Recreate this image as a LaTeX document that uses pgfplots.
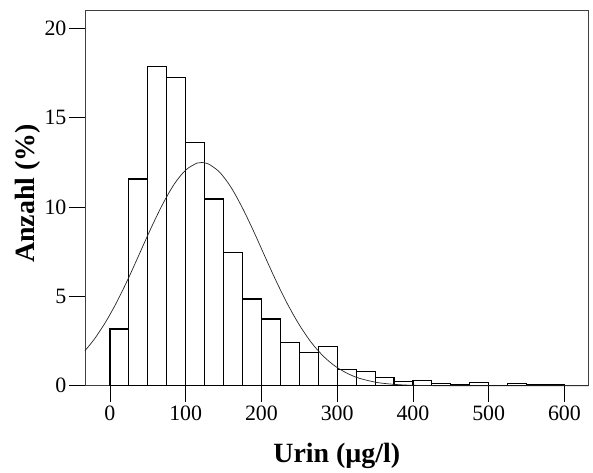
\documentclass[border=0pt]{standalone}
\usepackage{pgfplots}
\pgfplotsset{compat=1.18}
\usepackage{fontspec}
\setmainfont{Liberation Serif}
\begin{document}
\begin{tikzpicture}
\begin{axis}[
  name=ax,
  scale only axis,
  width=504bp, height=375.3bp,
  xmin=-33, xmax=632, ymin=0, ymax=21,
  xtick={0,100,...,600},
  ytick={0,5,10,15,20},
  xtick pos=bottom, ytick pos=left,
  tick align=outside,
  major tick length=16bp,
  tick style={black, line width=0.8pt},
  axis line style={black!75, line width=0.8pt},
  ticklabel style={font=\fontsize{22}{26}\selectfont},
  /pgf/number format/assume math mode=true,
  xticklabel style={yshift=-1bp},
  yticklabel style={xshift=1bp},
  xlabel={Urin (µg/l)},
  ylabel={Anzahl (\%)},
  label style={font=\bfseries\fontsize{28}{32}\selectfont},
  xlabel style={at={(axis description cs:0.5,0)}, anchor=base, yshift=-77bp},
  ylabel style={at={(axis description cs:-0.101,0.513)}, anchor=base},
  clip=false,
]
\addplot[ybar interval, fill=white, draw=black, line width=1.1pt] coordinates {
(0,3.18) (25,11.58) (50,17.89) (75,17.25) (100,13.6) (125,10.46)
(150,7.47) (175,4.86) (200,3.74) (225,2.43) (250,1.87) (275,2.20)
(300,0.90) (325,0.78) (350,0.49) (375,0.22) (400,0.28) (425,0.15)
(450,0.07) (475,0.21) (500,0) (525,0.15) (550,0.07) (575,0.07) (600,0)
};
\addplot[black!85, line width=0.7pt, smooth] coordinates {
(-33,1.96) (-20,2.65) (-5,3.62) (10,4.77) (25,6.08) (40,7.49) (55,8.90)
(70,10.20) (85,11.30) (100,12.08) (115,12.47) (121,12.50) (130,12.42)
(145,11.95) (160,11.10) (175,9.95) (190,8.62) (205,7.20) (220,5.81)
(235,4.53) (250,3.41) (265,2.47) (280,1.73) (295,1.17) (310,0.77)
(325,0.48) (340,0.30) (355,0.17) (370,0.10) (385,0.054) (400,0.029)
(430,0.007) (460,0.001) (500,0) (560,0) (632,0)
};
\end{axis}
\path ([xshift=-85bp,yshift=-82bp]ax.south west) rectangle ([xshift=4.3bp,yshift=10.7bp]ax.north east);
\end{tikzpicture}
\end{document}
